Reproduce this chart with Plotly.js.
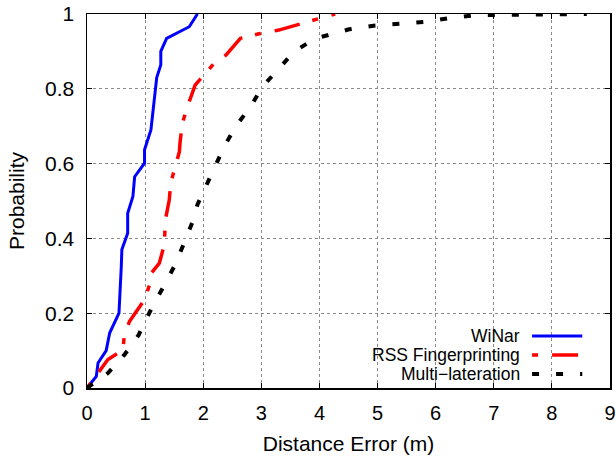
<!DOCTYPE html>
<html>
<head>
<meta charset="utf-8">
<script src="https://cdn.plot.ly/plotly-3.0.1.min.js"></script>
<style>html,body{margin:0;padding:0;background:#fff;}#chart{width:616px;height:460px;}</style>
</head>
<body>
<div id="chart"></div>
<script>
var seriesNames = ["WiNar", "RSS Fingerprinting", "Multi\u2212lateration"];

var winarX = [0, 0.16, 0.19, 0.33, 0.39, 0.55, 0.59, 0.60, 0.70, 0.70, 0.79, 0.82, 0.99, 0.99, 1.10, 1.16, 1.20, 1.27, 1.27, 1.37, 1.76, 1.90];
var winarY = [0, 0.031, 0.067, 0.10, 0.147, 0.20, 0.325, 0.37, 0.414, 0.467, 0.512, 0.565, 0.601, 0.637, 0.69, 0.77, 0.83, 0.864, 0.90, 0.935, 0.966, 1.0];

var rssX = [0, 0.25, 0.36, 0.62, 0.64, 0.73, 0.99, 1.085, 1.085, 1.245, 1.33, 1.35, 1.416, 1.44, 1.59, 1.60, 1.64, 1.76, 1.86, 2.215, 2.39, 2.64, 2.96, 3.30, 3.98, 4.27];
var rssY = [0, 0.053, 0.076, 0.102, 0.138, 0.178, 0.236, 0.28, 0.303, 0.334, 0.383, 0.45, 0.503, 0.548, 0.632, 0.655, 0.708, 0.766, 0.81, 0.873, 0.89, 0.935, 0.947, 0.957, 0.988, 1.0];

var mlX = [0, 0.36, 0.645, 0.89, 0.96, 1.14, 1.35, 1.50, 1.67, 1.83, 1.90, 2.06, 2.24, 2.36, 2.56, 2.815, 3.01, 3.30, 3.57, 3.92, 4.33, 4.51, 4.96, 5.38, 5.84, 6.27, 6.70, 8.6];
var mlY = [0, 0.04, 0.089, 0.142, 0.166, 0.222, 0.28, 0.325, 0.387, 0.45, 0.49, 0.546, 0.605, 0.645, 0.70, 0.752, 0.804, 0.852, 0.90, 0.934, 0.951, 0.959, 0.969, 0.975, 0.979, 0.99, 0.997, 1.0];

var xTicks = [0, 1, 2, 3, 4, 5, 6, 7, 8, 9];
var yTicks = [0, 0.2, 0.4, 0.6, 0.8, 1];
var yTickText = ["0", "0.2", "0.4", "0.6", "0.8", "1"];

var styles = [
  {color: "#0000ff", width: 3, dash: "solid"},
  {color: "#ff0000", width: 3.5, dash: "6px,14px,26px,13px"},
  {color: "#000000", width: 4, dash: "7px,17px"}
];
var xs = [winarX, rssX, mlX];
var ys = [winarY, rssY, mlY];

var traces = [];
for (var i = 0; i < 3; i++) {
  traces.push({
    x: xs[i], y: ys[i], type: "scatter", mode: "lines", name: seriesNames[i],
    line: {color: styles[i].color, width: styles[i].width, dash: styles[i].dash},
    showlegend: false, hoverinfo: "skip"
  });
}

var FONT = "Liberation Sans, Arial, sans-serif";

// Legend (text right-aligned, sample on the right) built in paper coords
var legendRowsY = [0.139, 0.088, 0.0374];
var shapes = [
  {type: "rect", xref: "paper", yref: "paper", x0: 0.48, x1: 0.997, y0: 0.003, y1: 0.19,
   fillcolor: "#ffffff", line: {width: 0}, layer: "between"}
];
var annotations = [];
for (var j = 0; j < 3; j++) {
  annotations.push({
    xref: "paper", yref: "paper", x: 0.83, y: legendRowsY[j], xanchor: "right", yanchor: "middle",
    text: seriesNames[j], showarrow: false, borderpad: 0,
    font: {family: FONT, size: 17.5, color: "#000"}
  });
  shapes.push({
    type: "line", xref: "paper", yref: "paper", x0: 0.851, x1: 0.947, y0: legendRowsY[j], y1: legendRowsY[j],
    line: {color: styles[j].color, width: styles[j].width, dash: styles[j].dash}, layer: "above"
  });
}

var axisCommon = {
  showline: true, linecolor: "#000", linewidth: 1.5, mirror: "ticks",
  ticks: "inside", ticklen: 5, tickcolor: "#000", tickwidth: 1,
  showgrid: true, gridcolor: "#8a8a8a", griddash: "dot", gridwidth: 1,
  zeroline: false, ticklabeloverflow: "allow",
  tickfont: {family: FONT, size: 20, color: "#000"}
};

var layout = {
  width: 616, height: 460,
  margin: {l: 87, r: 6, t: 14, b: 72},
  paper_bgcolor: "#fff", plot_bgcolor: "#fff",
  showlegend: false,
  xaxis: Object.assign({}, axisCommon, {
    range: [0, 9], tickvals: xTicks, ticktext: xTicks.map(String), ticklabelstandoff: 6,
    title: {text: "Distance Error (m)", font: {family: FONT, size: 21, color: "#000"}, standoff: 14}
  }),
  yaxis: Object.assign({}, axisCommon, {
    range: [0, 1], tickvals: yTicks, ticktext: yTickText, ticklabelstandoff: 7,
    tickfont: {family: FONT, size: 21, color: "#000"},
    title: {text: "Probability", font: {family: FONT, size: 21, color: "#000"}, standoff: 14}
  }),
  shapes: shapes,
  annotations: annotations
};

Plotly.newPlot("chart", traces, layout, {displayModeBar: false, staticPlot: true});
</script>
</body>
</html>
